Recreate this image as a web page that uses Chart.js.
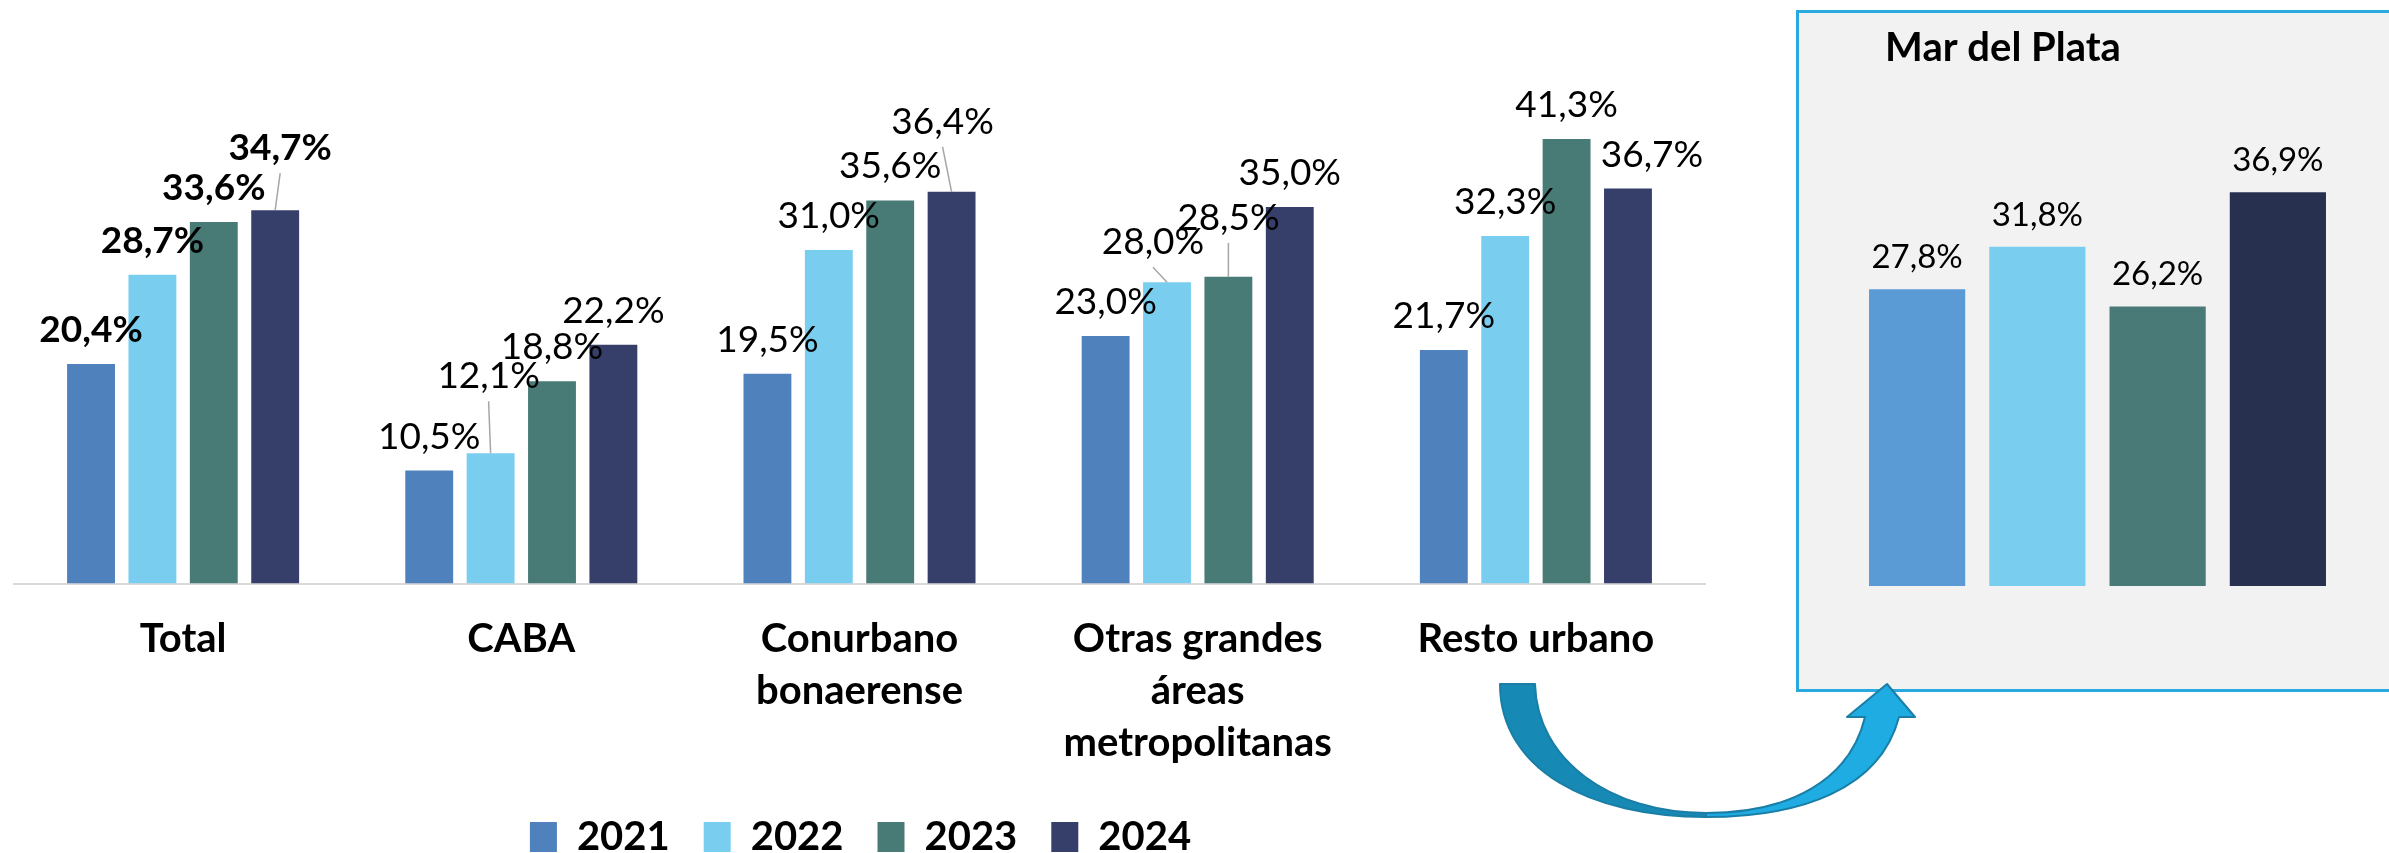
<!DOCTYPE html>
<html><head><meta charset="utf-8">
<script src="https://cdn.jsdelivr.net/npm/chart.js@4.4.1/dist/chart.umd.min.js"></script>
<style>
html,body{margin:0;padding:0;background:#fff;width:2389px;height:853px;overflow:hidden;position:relative;}
#main{position:absolute;left:0;top:0;}
#box{position:absolute;left:1796px;top:10px;width:700px;height:682px;box-sizing:border-box;background:#f2f2f2;border:3px solid #2aa8e0;}
#mdp{position:absolute;left:1668px;top:12px;}
#arrow{position:absolute;left:0;top:0;pointer-events:none;}
</style></head><body>
<div id="box"></div>
<canvas id="main" width="1721" height="867"></canvas>
<canvas id="mdp" width="670" height="574"></canvas>
<svg id="arrow" width="2389" height="853" xmlns="http://www.w3.org/2000/svg">
  <path d="M1500,684 L1535,684 C1537,760 1610,813 1706,813 L1706,817 C1590,817 1500,770 1500,684 Z" fill="#1689b5" stroke="#1a7ea6" stroke-width="2" stroke-linejoin="round"/>
  <path d="M1706,813 C1790,813 1850,780 1865,717 L1847,717 L1887,684 L1915,717 L1899,717 C1880,790 1800,817 1706,817 Z" fill="#1eace2" stroke="#1a7ea6" stroke-width="2" stroke-linejoin="round"/>
</svg>
<script>
// ---- data ----
const categories = [['Total'], ['CABA'], ['Conurbano', 'bonaerense'], ['Otras grandes', 'áreas', 'metropolitanas'], ['Resto urbano']];
const years = ['2021', '2022', '2023', '2024'];
const values2021 = [20.4, 10.5, 19.5, 23.0, 21.7];
const values2022 = [28.7, 12.1, 31.0, 28.0, 32.3];
const values2023 = [33.6, 18.8, 35.6, 28.5, 41.3];
const values2024 = [34.7, 22.2, 36.4, 35.0, 36.7];
const mdpTitle = 'Mar del Plata';
const mdpCategories = ['2021', '2022', '2023', '2024'];
const mdpValues = [27.8, 31.8, 26.2, 36.9];

// ---- styles ----
const seriesValues = [values2021, values2022, values2023, values2024];
const mainColors = ['#4f81bd', '#79cef0', '#487a76', '#353f6a'];
const mdpColors = ['#5b9bd5', '#79cef0', '#4a7a77', '#283050'];
const FONT = 'Lato';

function fmt(v) { return v.toFixed(1).replace('.', ',') + '%'; }

// manual label nudges (dataset,index) like in the original
const mainNudges = {
  '3,0': {dx: 5, dy: -28, leader: true},
  '1,1': {dx: -2, dy: -43, leader: true},
  '3,2': {dx: -9, dy: -36, leader: true},
  '1,3': {dx: -14, dy: -6, leader: true},
  '2,3': {dx: 0, dy: -25, leader: true},
  '3,4': {dx: 24, dy: 0}
};

function makeLabelPlugin(id, gap, fontFn, nudges) {
  return {
    id: id,
    afterDatasetsDraw(chart) {
      const ctx = chart.ctx;
      ctx.save();
      chart.data.datasets.forEach((ds, di) => {
        const meta = chart.getDatasetMeta(di);
        meta.data.forEach((bar, j) => {
          const n = (nudges && nudges[di + ',' + j]) || {dx: 0, dy: 0};
          const x = bar.x + n.dx;
          const y = bar.y - gap + n.dy;
          if (n.leader) {
            ctx.strokeStyle = '#a6a6a6';
            ctx.lineWidth = 1.5;
            ctx.beginPath();
            ctx.moveTo(x, y + 13);
            ctx.lineTo(bar.x, bar.y);
            ctx.stroke();
          }
          ctx.font = fontFn(di, j);
          ctx.fillStyle = '#000';
          ctx.textAlign = 'center';
          ctx.textBaseline = 'alphabetic';
          ctx.fillText(fmt(ds.data[j]), x, y);
        });
      });
      ctx.restore();
    }
  };
}

new Chart(document.getElementById('main'), {
  type: 'bar',
  data: {
    labels: categories,
    datasets: years.map((y, i) => ({
      label: y,
      data: seriesValues[i],
      backgroundColor: mainColors[i],
      borderWidth: 0,
      categoryPercentage: 0.726,
      barPercentage: 0.78
    }))
  },
  options: {
    responsive: false,
    animation: false,
    layout: {padding: 0},
    scales: {
      x: {
        grid: {display: false, drawTicks: false},
        border: {display: true, color: '#d9d9d9', width: 2},
        ticks: {color: '#000', font: {family: FONT, weight: 'bold', size: 40, lineHeight: 52 / 40}, padding: 30, maxRotation: 0, autoSkip: false},
        afterFit(a) { a.height = 199.5; }
      },
      y: {
        min: 0, max: 54.23,
        grid: {display: false},
        border: {display: false},
        ticks: {display: false},
        afterFit(a) { a.width = 14; }
      },
      ySpacer: {
        position: 'right',
        display: true,
        grid: {display: false},
        border: {display: false},
        ticks: {display: false},
        afterFit(a) { a.width = 16; }
      }
    },
    plugins: {
      legend: {
        position: 'bottom',
        labels: {color: '#000', font: {family: FONT, weight: 'bold', size: 40}, boxWidth: 27, boxHeight: 30, padding: 34}
      },
      tooltip: {enabled: false}
    }
  },
  plugins: [makeLabelPlugin('mainLabels', 22, (di, j) => (j === 0 ? 'bold ' : '') + '37px ' + FONT, mainNudges)]
});

new Chart(document.getElementById('mdp'), {
  type: 'bar',
  data: {
    labels: mdpCategories,
    datasets: [{data: mdpValues, backgroundColor: mdpColors, borderWidth: 0, categoryPercentage: 1, barPercentage: 0.8}]
  },
  options: {
    responsive: false,
    animation: false,
    layout: {padding: 0},
    scales: {
      x: {display: false},
      y: {
        min: 0, max: 47.36,
        grid: {display: false},
        border: {display: false},
        ticks: {display: false},
        afterFit(a) { a.width = 189; }
      }
    },
    plugins: {
      legend: {display: false},
      tooltip: {enabled: false},
      title: {display: true, text: mdpTitle, color: '#000', font: {family: FONT, weight: 'bold', size: 40, lineHeight: 1.14}, padding: {top: 13, bottom: 10}}
    }
  },
  plugins: [makeLabelPlugin('mdpLabels', 21, () => '33px ' + FONT, null)]
});
</script>
</body></html>
